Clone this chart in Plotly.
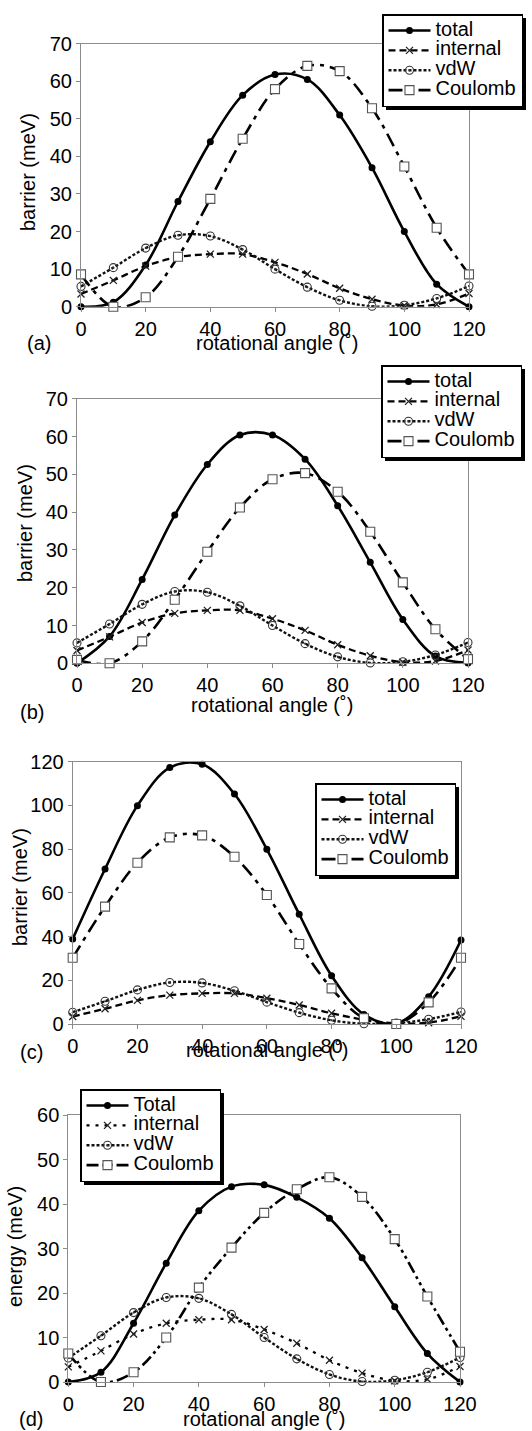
import plotly.graph_objects as go

W, H = 532, 1431

# ---------------- data ----------------
angle = [0, 10, 20, 30, 40, 50, 60, 70, 80, 90, 100, 110, 120]
x_ticks = [0, 20, 40, 60, 80, 100, 120]

internal = [3.4, 7.0, 10.8, 13.2, 14.0, 14.0, 11.8, 8.7, 4.9, 2.0, 0.3, 0.6, 3.5]
vdw = [5.4, 10.4, 15.6, 19.0, 18.8, 15.2, 10.0, 5.2, 1.7, 0.1, 0.4, 2.2, 5.5]

total_a = [0, 1.2, 11.1, 28.0, 43.9, 56.3, 61.8, 60.5, 51.0, 37.0, 20.0, 6.0, 0]
coulomb_a = [8.6, 0, 2.5, 13.3, 28.7, 44.7, 57.9, 64.1, 62.7, 52.8, 37.3, 21.0, 8.6]

total_b = [0, 7.1, 22.2, 39.2, 52.6, 60.4, 60.4, 54.0, 41.7, 26.7, 11.6, 1.9, 0.1]
coulomb_b = [0.9, 0, 5.8, 16.8, 29.5, 41.2, 48.7, 50.3, 45.4, 34.8, 21.4, 9.0, 1.1]

total_c = [38.9, 70.9, 99.9, 117.3, 118.8, 105.2, 79.9, 50.2, 22.1, 4.4, 0.3, 12.5, 38.4]
coulomb_c = [30.3, 53.7, 73.8, 85.4, 86.3, 76.5, 59.0, 36.6, 16.3, 2.6, 0, 9.9, 30.3]

total_d = [0, 2.2, 13.2, 26.7, 38.5, 43.9, 44.3, 41.5, 36.8, 27.9, 16.9, 6.4, 0]
coulomb_d = [6.4, 0, 2.2, 10.0, 21.2, 30.2, 38.0, 43.3, 46.0, 41.6, 32.1, 19.2, 6.8]

names_abc = ["total", "internal", "vdW", "Coulomb"]
names_d = ["Total", "internal", "vdW", "Coulomb"]
panel_labels = ["(a)", "(b)", "(c)", "(d)"]
y_titles = ["barrier (meV)", "barrier (meV)", "barrier (meV)", "energy (meV)"]
x_title = "rotational angle (˚)"
y_ranges = [70, 70, 120, 60]
y_dticks = [10, 10, 20, 10]

# ---------------- layout geometry (pixels) ----------------
FONT = "Liberation Sans, Arial, Helvetica, sans-serif"
plots_px = [  # left, right, top, bottom
    (81, 469, 43.7, 306.7),
    (77, 468, 398.7, 663.3),
    (72.7, 461, 761.7, 1024),
    (68.3, 460, 1115, 1382),
]
legend_px = [(382, 14), (381, 365), (315, 783), (80, 1089)]
legend_size = (140, 92)
ytitle_px = [(28, 172), (25, 523), (20, 887), (15, 1247)]
xtitle_px = [(277, 343), (272, 705), (267, 1050), (264, 1419)]
plabel_px = [(39, 343), (32, 712), (31, 1052), (31, 1419)]


def px_x(p):
    return p / W


def px_y(p):
    return 1 - p / H


series = [
    (total_a, coulomb_a),
    (total_b, coulomb_b),
    (total_c, coulomb_c),
    (total_d, coulomb_d),
]

fig = go.Figure()
layout = dict(
    width=W, height=H,
    margin=dict(l=0, r=0, t=0, b=0, autoexpand=False),
    paper_bgcolor="white", plot_bgcolor="white",
    font=dict(family=FONT, size=20, color="black"),
    showlegend=True,
    annotations=[], shapes=[],
)

LEG_FS = 13
TXT_FS = 20

for i, (tot, cou) in enumerate(series):
    k = i + 1
    xa = "x" if k == 1 else f"x{k}"
    ya = "y" if k == 1 else f"y{k}"
    lg = "legend" if k == 1 else f"legend{k}"
    names = names_d if k == 4 else names_abc
    int_dash = "3px,6px" if k == 4 else "7px,4px"
    cou_dash = "12px,4px,3px,4px,3px,4px" if k == 4 else "14px,6px,4px,6px"

    def nm(s):
        return f"<span style='font-size:{TXT_FS}px'>{s}</span>"

    common = dict(x=angle, xaxis=xa, yaxis=ya, legend=lg, cliponaxis=False,
                  mode="lines+markers", line_shape="spline")
    fig.add_trace(go.Scatter(
        y=tot, name=nm(names[0]),
        line=dict(color="black", width=2.6),
        marker=dict(symbol="circle", size=7, color="black"), **common))
    fig.add_trace(go.Scatter(
        y=internal, name=nm(names[1]),
        line=dict(color="black", width=2.3, dash=int_dash),
        marker=dict(symbol="x-thin", size=7, line=dict(color="#222", width=1.3)),
        **common))
    fig.add_trace(go.Scatter(
        y=vdw, name=nm(names[2]),
        line=dict(color="#111", width=2.4, dash="3px,2px"),
        marker=dict(symbol="circle-open-dot", size=8, color="#333",
                    line=dict(width=1.1)), **common))
    fig.add_trace(go.Scatter(
        y=cou, name=nm(names[3]),
        line=dict(color="black", width=2.6, dash=cou_dash),
        marker=dict(symbol="square", size=9, color="white",
                    line=dict(color="#555", width=1.1)), **common))

    l, r, t, b = plots_px[i]
    axis_common = dict(showline=True, linecolor="#8c8c8c", linewidth=1,
                       mirror=True, ticks="outside", ticklen=4,
                       tickcolor="#8c8c8c", showgrid=False, zeroline=False,
                       tickfont=dict(family=FONT, size=20, color="black"))
    layout[f"xaxis{'' if k == 1 else k}"] = dict(
        domain=[px_x(l), px_x(r)], range=[0, 120], tickvals=x_ticks,
        anchor=ya, **axis_common)
    layout[f"yaxis{'' if k == 1 else k}"] = dict(
        domain=[px_y(b), px_y(t)], range=[0, y_ranges[i]],
        dtick=y_dticks[i], tick0=0, anchor=xa, **axis_common)

    lx, ly = legend_px[i]
    layout[lg] = dict(
        x=px_x(lx), y=px_y(ly), xanchor="left", yanchor="top",
        bgcolor="white", bordercolor="black", borderwidth=1.5,
        font=dict(family=FONT, size=LEG_FS, color="black"),
        itemwidth=42, tracegroupgap=0,
    )
    # drop shadow behind the legend box
    lw, lh = legend_size
    layout["shapes"].append(dict(
        type="rect", xref="paper", yref="paper", layer="above",
        x0=px_x(lx + 4), x1=px_x(lx + lw + 4),
        y0=px_y(ly + 4), y1=px_y(ly + lh + 4),
        fillcolor="black", line=dict(width=0)))

    tx, ty = ytitle_px[i]
    layout["annotations"].append(dict(
        text=y_titles[i], x=px_x(tx), y=px_y(ty), xref="paper", yref="paper",
        textangle=-90, showarrow=False, font=dict(family=FONT, size=20),
        xanchor="center", yanchor="middle"))
    tx, ty = xtitle_px[i]
    layout["annotations"].append(dict(
        text=x_title, x=px_x(tx), y=px_y(ty), xref="paper", yref="paper",
        showarrow=False, font=dict(family=FONT, size=20),
        xanchor="center", yanchor="middle"))
    tx, ty = plabel_px[i]
    layout["annotations"].append(dict(
        text=panel_labels[i], x=px_x(tx), y=px_y(ty), xref="paper", yref="paper",
        showarrow=False, font=dict(family=FONT, size=20),
        xanchor="center", yanchor="middle"))

fig.update_layout(**layout)
fig.write_html(
    "out.html",
    post_script="document.body.style.margin='0';document.body.style.overflow='hidden';",
)
